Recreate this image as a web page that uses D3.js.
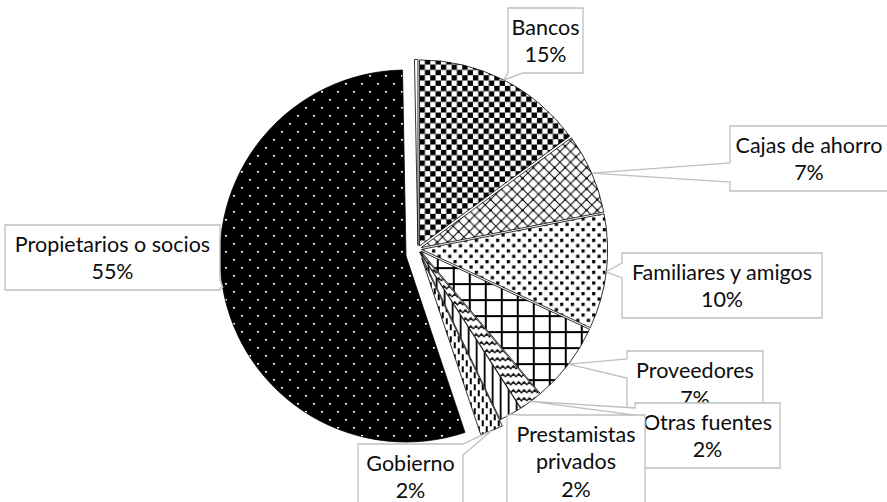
<!DOCTYPE html>
<html><head><meta charset="utf-8">
<script src="https://cdn.jsdelivr.net/npm/d3@7"></script>
<style>html,body{margin:0;padding:0;background:#fff;overflow:hidden}</style>
</head><body>
<svg id="chart" width="887" height="502"></svg>
<script>
// ---- data ----
const categories = ["Bancos","Cajas de ahorro","Familiares y amigos","Proveedores","Otras fuentes","Prestamistas privados","Gobierno","Propietarios o socios","Otros"];
const values = [15, 7, 10, 7, 2, 2, 2, 55, 0.3];
const percentLabels = ["15%","7%","10%","7%","2%","2%","2%","55%",""];
const labelLines = [["Bancos"],["Cajas de ahorro"],["Familiares y amigos"],["Proveedores"],["Otras fuentes"],["Prestamistas","privados"],["Gobierno"],["Propietarios o socios"],[]];
const patternIds = ["checker","diamond","confetti","grid","wave","vlines","vdash","dots","blank"];

// ---- layout ----
const W = 887, H = 502, cx = 418, cy = 249, R = 186;
const explode = [3.5, 3.5, 3.5, 3.5, 3.5, 3.5, 10, 0, 3.5];
const customOffset = {7: [-12, 7]};
const boxes = [
  {x:508, y:8,   w:75,  h:65, side:"bottom", b1:0,  b2:15},
  {x:730, y:126, w:158, h:65, side:"left",   b1:37, b2:56},
  {x:622, y:253, w:200, h:65, side:"left",   b1:10, b2:25},
  {x:627, y:351, w:136, h:66, side:"left",   b1:8,  b2:27},
  {x:635, y:403, w:145, h:65, side:"left",   b1:5,  b2:12},
  {x:507, y:415, w:138, h:92, side:"top",    b1:3,  b2:14},
  {x:358, y:444, w:105, h:65, side:"right",  b1:0,  b2:11},
  {x:5,   y:225, w:215, h:65, side:"right",  b1:55, b2:63},
  null
];
const lineGap = 27.5;

const svg = d3.select("#chart");
const defs = svg.append("defs");

function pat(id, w, h, bg) {
  const p = defs.append("pattern").attr("id", id).attr("patternUnits", "userSpaceOnUse")
    .attr("width", w).attr("height", h);
  p.append("rect").attr("width", w).attr("height", h).attr("fill", bg);
  return p;
}
const t = 32/3;
let p;
p = pat("checker", t, t, "#fff");
p.append("rect").attr("width", t/2).attr("height", t/2).attr("fill", "#000");
p.append("rect").attr("x", t/2).attr("y", t/2).attr("width", t/2).attr("height", t/2).attr("fill", "#000");
p = pat("diamond", t, t, "#fff");
p.append("path").attr("d", `M0,0L${t},${t}M${t},0L0,${t}`).attr("stroke", "#000").attr("stroke-width", 1);
p.append("rect").attr("x", t/2 - 1).attr("y", t/2 - 1).attr("width", 2).attr("height", 2).attr("fill", "#000");
p = pat("confetti", t, t, "#fff");
p.append("rect").attr("width", 3.2).attr("height", 3.2).attr("fill", "#000");
p.append("rect").attr("x", t/2).attr("y", t/2).attr("width", 3.2).attr("height", 3.2).attr("fill", "#000");
p = pat("grid", 16, 16, "#fff");
p.append("rect").attr("width", 16).attr("height", 2).attr("fill", "#000");
p.append("rect").attr("width", 2).attr("height", 16).attr("fill", "#000");
p = pat("wave", t, 8, "#fff");
p.append("path").attr("d", `M0,5 L${t/4},2 L${t/2},5 L${3*t/4},2 L${t},5`).attr("stroke", "#000").attr("stroke-width", 1.3).attr("fill", "none");
p = pat("vlines", 8, 8, "#fff");
p.append("rect").attr("width", 1.8).attr("height", 8).attr("fill", "#000");
p = pat("vdash", 8, 12, "#fff");
p.append("rect").attr("width", 2).attr("height", 6).attr("fill", "#000");
p.append("rect").attr("x", 4).attr("y", 6).attr("width", 2).attr("height", 6).attr("fill", "#000");
p = pat("dots", 16, 16, "#000");
p.append("rect").attr("x", 3).attr("y", 3).attr("width", 2).attr("height", 1.6).attr("fill", "#fff");
p.append("rect").attr("x", 11).attr("y", 11).attr("width", 2).attr("height", 1.6).attr("fill", "#fff");
pat("blank", 4, 4, "#fff");

const pie = d3.pie().sort(null).value(d => d).startAngle(0).endAngle(2 * Math.PI);
const arcs = pie(values);
const arc = d3.arc().innerRadius(0).outerRadius(R);

function offsetOf(i, d) {
  if (customOffset[i]) return customOffset[i];
  const m = (d.startAngle + d.endAngle) / 2;
  return [Math.sin(m) * explode[i], -Math.cos(m) * explode[i]];
}

const g = svg.append("g").attr("transform", `translate(${cx},${cy})`);
g.selectAll("path.slice").data(arcs).join("path")
  .attr("class", "slice")
  .attr("transform", (d, i) => { const o = offsetOf(i, d); return `translate(${o[0]},${o[1]})`; })
  .attr("d", arc)
  .attr("fill", (d, i) => `url(#${patternIds[i]})`)
  .attr("stroke", "#000")
  .attr("stroke-width", 0.8)
  .attr("stroke-linejoin", "round");

// ---- callout labels ----
function calloutPath(b, tip) {
  const {x, y, w, h} = b;
  let pts;
  if (b.side === "left") {
    pts = [[x, y], [x + w, y], [x + w, y + h], [x, y + h], [x, y + b.b2], tip, [x, y + b.b1]];
  } else if (b.side === "right") {
    pts = [[x, y], [x + w, y], [x + w, y + b.b1], tip, [x + w, y + b.b2], [x + w, y + h], [x, y + h]];
  } else if (b.side === "top") {
    pts = [[x, y], [x + b.b1, y], tip, [x + b.b2, y], [x + w, y], [x + w, y + h], [x, y + h]];
  } else {
    pts = [[x, y], [x + w, y], [x + w, y + h], [x + b.b2, y + h], tip, [x + b.b1, y + h], [x, y + h]];
  }
  return "M" + pts.map(p => p.join(",")).join("L") + "Z";
}

const labelG = svg.append("g");
arcs.forEach((d, i) => {
  const b = boxes[i];
  if (!b) return;
  const m = (d.startAngle + d.endAngle) / 2;
  const o = offsetOf(i, d);
  const tip = [cx + Math.sin(m) * R + o[0], cy - Math.cos(m) * R + o[1]];
  const lg = labelG.append("g");
  lg.append("path").attr("d", calloutPath(b, tip))
    .attr("fill", "#fff").attr("stroke", "#bfbfbf").attr("stroke-width", 1.3)
    .attr("stroke-linejoin", "miter");
  const lines = labelLines[i].concat([percentLabels[i]]);
  const y0 = b.y + b.h / 2 - (lines.length - 1) * lineGap / 2;
  const txt = lg.append("text")
    .attr("font-family", "Lato, 'Open Sans', sans-serif")
    .attr("font-size", 21.5)
    .attr("fill", "#0d0d0d")
    .attr("text-anchor", "middle");
  lines.forEach((s, k) => {
    txt.append("tspan").attr("x", b.x + b.w / 2).attr("y", y0 + k * lineGap)
      .attr("dominant-baseline", "central").text(s);
  });
});
</script>
</body></html>
